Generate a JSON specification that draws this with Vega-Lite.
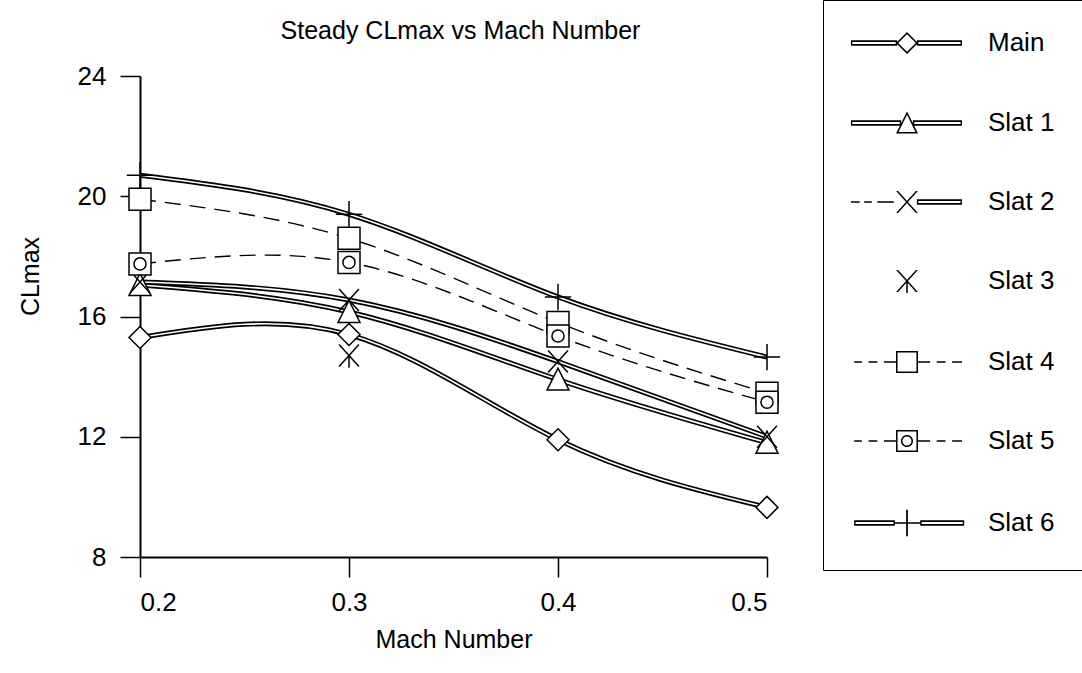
{
  "$schema": "https://vega.github.io/schema/vega-lite/v6.json",
  "width": 627,
  "height": 481,
  "autosize": {"type": "none"},
  "padding": {"left": 140, "top": 76, "right": 315, "bottom": 116},
  "background": "white",
  "title": {
    "text": "Steady CLmax vs Mach Number",
    "font": "Liberation Sans",
    "fontSize": 25,
    "fontWeight": "normal",
    "color": "black",
    "anchor": "middle",
    "baseline": "alphabetic",
    "offset": 0,
    "dy": 64,
    "dx": 7
  },
  "config": {
    "view": {"stroke": null},
    "axis": {
      "grid": false,
      "domainColor": "black",
      "domainWidth": 2,
      "tickColor": "black",
      "tickWidth": 1.5,
      "tickSize": 20,
      "labelFont": "Liberation Sans",
      "labelFontSize": 26,
      "labelColor": "black",
      "titleFont": "Liberation Sans",
      "titleFontSize": 25,
      "titleFontWeight": "normal",
      "titleColor": "black"
    }
  },
  "resolve": {"scale": {"shape": "independent"}, "legend": {"shape": "independent"}},
  "data": {
    "values": [
      {"series": "Main", "mach": 0.2, "cl": 15.3},
      {"series": "Main", "mach": 0.3, "cl": 15.4},
      {"series": "Main", "mach": 0.4, "cl": 11.9},
      {"series": "Main", "mach": 0.5, "cl": 9.65},
      {"series": "Slat 1", "mach": 0.2, "cl": 17.05},
      {"series": "Slat 1", "mach": 0.3, "cl": 16.15},
      {"series": "Slat 1", "mach": 0.4, "cl": 13.9},
      {"series": "Slat 1", "mach": 0.5, "cl": 11.8},
      {"series": "Slat 2", "mach": 0.2, "cl": 17.15},
      {"series": "Slat 2", "mach": 0.3, "cl": 16.55},
      {"series": "Slat 2", "mach": 0.4, "cl": 14.5},
      {"series": "Slat 2", "mach": 0.5, "cl": 12.0},
      {"series": "Slat 3", "mach": 0.3, "cl": 14.7},
      {"series": "Slat 4", "mach": 0.2, "cl": 19.9},
      {"series": "Slat 4", "mach": 0.3, "cl": 18.6},
      {"series": "Slat 4", "mach": 0.4, "cl": 15.8},
      {"series": "Slat 4", "mach": 0.5, "cl": 13.45},
      {"series": "Slat 5", "mach": 0.2, "cl": 17.75},
      {"series": "Slat 5", "mach": 0.3, "cl": 17.8},
      {"series": "Slat 5", "mach": 0.4, "cl": 15.35},
      {"series": "Slat 5", "mach": 0.5, "cl": 13.15},
      {"series": "Slat 6", "mach": 0.2, "cl": 20.7},
      {"series": "Slat 6", "mach": 0.3, "cl": 19.4},
      {"series": "Slat 6", "mach": 0.4, "cl": 16.65},
      {"series": "Slat 6", "mach": 0.5, "cl": 14.65}
    ]
  },
  "encoding": {
    "x": {
      "field": "mach",
      "type": "quantitative",
      "scale": {"domain": [0.2, 0.5], "nice": false, "zero": false},
      "axis": {
        "values": [0.2, 0.3, 0.4, 0.5],
        "format": ".1f",
        "labelPadding": 12,
        "title": "Mach Number",
        "titlePadding": 12
      }
    },
    "y": {
      "field": "cl",
      "type": "quantitative",
      "scale": {"domain": [8, 24], "nice": false, "zero": false},
      "axis": {
        "values": [8, 12, 16, 20, 24],
        "labelPadding": 14,
        "title": "CLmax",
        "titleX": -102,
        "titleY": 200,
        "titleBaseline": "alphabetic"
      }
    }
  },
  "layer": [
    {
      "transform": [{"filter": {"field": "series", "oneOf": ["Main", "Slat 1", "Slat 2", "Slat 6"]}}],
      "mark": {"type": "line", "color": "black", "strokeWidth": 5, "interpolate": "natural"},
      "encoding": {"detail": {"field": "series"}}
    },
    {
      "transform": [{"filter": {"field": "series", "oneOf": ["Main", "Slat 1", "Slat 2", "Slat 6"]}}],
      "mark": {"type": "line", "color": "white", "strokeWidth": 1.6, "interpolate": "natural"},
      "encoding": {"detail": {"field": "series"}}
    },
    {
      "transform": [{"filter": {"field": "series", "oneOf": ["Slat 4", "Slat 5"]}}],
      "mark": {"type": "line", "color": "black", "strokeWidth": 1.4, "strokeDash": [16, 9], "interpolate": "natural"},
      "encoding": {"detail": {"field": "series"}}
    },
    {
      "mark": {"type": "point", "filled": false, "fill": "white", "fillOpacity": 1, "stroke": "black", "strokeWidth": 1.5, "opacity": 1, "size": 484},
      "encoding": {
        "shape": {
          "field": "series",
          "type": "nominal",
          "scale": {
            "domain": ["Main", "Slat 1", "Slat 2", "Slat 3", "Slat 4", "Slat 5", "Slat 6"],
            "range": [
              "M0,-1L1,0L0,1L-1,0Z",
              "M0,-1.05L1,0.95H-1Z",
              "M-0.9,-1L0.9,1M-0.9,1L0.9,-1",
              "M-0.9,-1L0.9,1M-0.9,1L0.9,-1M0,0V1.1",
              "M-1,-1H1V1H-1Z",
              "M-1,-1H1V1H-1Z M0.55,0A0.55,0.55,0,1,1,-0.55,0A0.55,0.55,0,1,1,0.55,0",
              "M-1.2,0H1.2M0,-1.2V1.2"
            ]
          },
          "legend": null
        }
      }
    },
    {
      "mark": {"type": "point", "filled": true, "color": "black", "size": 484, "opacity": 0},
      "encoding": {
        "shape": {
          "field": "series",
          "type": "nominal",
          "scale": {
            "domain": ["Main", "Slat 1", "Slat 2", "Slat 3", "Slat 4", "Slat 5", "Slat 6"],
            "range": [
              "M-5.1,-0.24H-0.9V0.24H-5.1Z M-4.97,-0.1V0.1H-1.03V-0.1Z M0.9,-0.24H5V0.24H0.9Z M1.03,-0.1V0.1H4.87V-0.1Z M0,-1L1,0L0,1L-1,0Z M0,-0.8L-0.8,0L0,0.8L0.8,0Z",
              "M-5.1,-0.24H-0.53V0.24H-5.1Z M-4.97,-0.1V0.1H-0.66V-0.1Z M0.53,-0.24H5V0.24H0.53Z M0.66,-0.1V0.1H4.87V-0.1Z M0,-1.05L1,0.95L-1,0.95Z M0,-0.74L-0.77,0.81L0.77,0.81Z",
              "M-5.1,-0.07H-4.3V0.07H-5.1Z M-3.9,-0.07H-3.2V0.07H-3.9Z M-2.7,-0.07H-1.2V0.07H-2.7Z M0.9,-0.24H5V0.24H0.9Z M1.03,-0.1V0.1H4.87V-0.1Z M-0.99,-1L-0.81,-1L0.99,1L0.81,1Z M0.81,-1L0.99,-1L-0.81,1L-0.99,1Z",
              "M-0.99,-1L-0.81,-1L0.99,1L0.81,1Z M0.81,-1L0.99,-1L-0.81,1L-0.99,1Z M-0.07,0H0.07V1.1H-0.07Z",
              "M-4.8,-0.07H-4.1V0.07H-4.8Z M-3.5,-0.07H-2.7V0.07H-3.5Z M-2.1,-0.07H-1V0.07H-2.1Z M1,-0.07H2.1V0.07H1Z M2.7,-0.07H3.5V0.07H2.7Z M4.1,-0.07H5V0.07H4.1Z M-1,-1H1V1H-1Z M-0.86,-0.86V0.86H0.86V-0.86Z",
              "M-4.8,-0.07H-4.1V0.07H-4.8Z M-3.5,-0.07H-2.7V0.07H-3.5Z M-2.1,-0.07H-1V0.07H-2.1Z M1,-0.07H2.1V0.07H1Z M2.7,-0.07H3.5V0.07H2.7Z M4.1,-0.07H5V0.07H4.1Z M-1,-1H1V1H-1Z M-0.86,-0.86V0.86H0.86V-0.86Z M0.55,0A0.55,0.55,0,1,1,-0.55,0A0.55,0.55,0,1,1,0.55,0Z M0.41,0A0.41,0.41,0,1,0,-0.41,0A0.41,0.41,0,1,0,0.41,0Z",
              "M-4.8,-0.24H-1.1V0.24H-4.8Z M-4.67,-0.1V0.1H-1.23V-0.1Z M1.2,-0.24H5.2V0.24H1.2Z M1.33,-0.1V0.1H5.07V-0.1Z M-1.1,-0.07H1.2V0.07H-1.1Z M-0.08,-1.2H0.08V1.2H-0.08Z"
            ]
          },
          "legend": {
            "title": null,
            "orient": "none",
            "legendX": 683,
            "legendY": -76,
            "padding": 30,
            "strokeColor": "black",
            "fillColor": "white",
            "labelFont": "Liberation Sans",
            "labelFontSize": 26,
            "labelColor": "black",
            "rowPadding": 51,
            "symbolSize": 484,
            "symbolOffset": 41,
            "labelOffset": 68,
            "symbolOpacity": 1
          }
        }
      }
    }
  ]
}
